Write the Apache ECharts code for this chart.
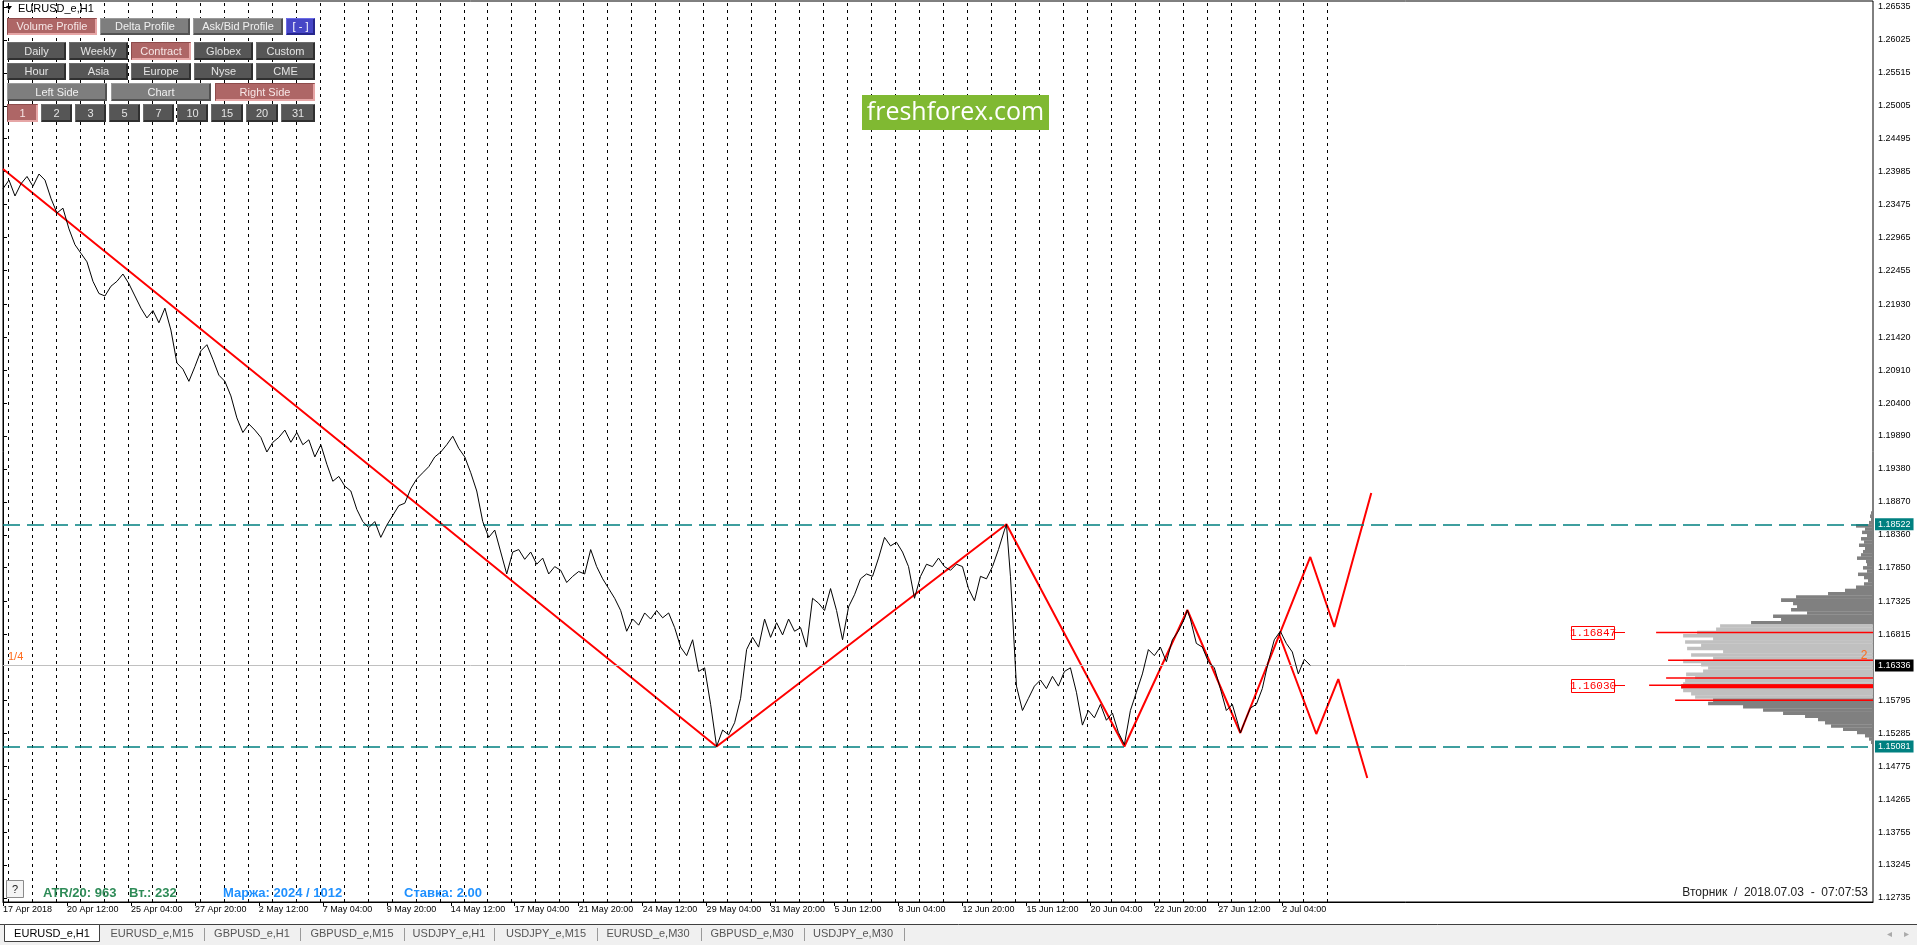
<!DOCTYPE html>
<html><head><meta charset="utf-8">
<script src="https://cdn.jsdelivr.net/npm/echarts@6/dist/echarts.min.js"></script>
<style>html,body{margin:0;padding:0;background:#fff;overflow:hidden}#c{width:1917px;height:945px}</style>
</head><body><div id="c"></div>
<script>
// ---------- DATA ----------
const priceBars = [0,6,12,18,24,30,36,42,48,54,60,66,72,78,84,90,96,102,108,114,120,126,132,138,144,150,156,162,168,174,180,186,192,198,204,210,216,222,228,234,240,246,252,258,264,270,276,282,288,294,300,306,312,318,324,330,336,342,348,354,360,366,372,378,384,390,396,402,408,414,420,426,432,438,444,450,456,462,468,474,480,486,492,498,504,510,516,522,528,534,540,546,552,558,564,570,576,582,588,594,600,606,612,618,624,630,636,642,648,654,660,666,672,678,684,690,696,702,708,714,720,726,732,738,744,750,756,762,768,774,780,786,792,798,804,810,816,822,828,834,840,846,852,858,864,870,876,882,888,894,900,906,912,918,924,930,936,942,948,954,960,966,972,978,984,990,996,1002,1004,1008,1014,1020,1026,1032,1038,1044,1050,1056,1062,1068,1074,1080,1086,1092,1098,1104,1110,1116,1122,1128,1134,1140,1146,1152,1158,1164,1170,1176,1182,1185,1188,1194,1200,1206,1212,1218,1224,1230,1236,1238,1242,1248,1254,1260,1266,1272,1278,1284,1290,1296,1302,1308];
const prices = [1.23721,1.23854,1.23608,1.23797,1.23910,1.23759,1.23948,1.23854,1.23570,1.23344,1.23419,1.23098,1.22853,1.22720,1.22588,1.22286,1.22097,1.22059,1.22210,1.22286,1.22399,1.22248,1.22059,1.21871,1.21719,1.21833,1.21644,1.21871,1.21531,1.21021,1.20926,1.20737,1.20964,1.21209,1.21304,1.21077,1.20832,1.20737,1.20511,1.20171,1.19944,1.20076,1.19982,1.19869,1.19642,1.19793,1.19869,1.19982,1.19793,1.19944,1.19755,1.19831,1.19566,1.19755,1.19453,1.19189,1.19264,1.19113,1.19038,1.18754,1.18565,1.18471,1.18565,1.18320,1.18509,1.18660,1.18811,1.18849,1.19075,1.19226,1.19321,1.19415,1.19566,1.19642,1.19755,1.19887,1.19699,1.19566,1.19321,1.19038,1.18565,1.18320,1.18433,1.18093,1.17753,1.18093,1.18131,1.17980,1.18093,1.17904,1.17999,1.17753,1.17867,1.17810,1.17621,1.17716,1.17791,1.17753,1.18131,1.17867,1.17678,1.17527,1.17376,1.17187,1.16866,1.17055,1.16960,1.17149,1.17055,1.17187,1.17074,1.17149,1.16922,1.16620,1.16488,1.16734,1.16243,1.16299,1.15733,1.15081,1.15336,1.15260,1.15449,1.15827,1.16582,1.16771,1.16620,1.17055,1.16771,1.16998,1.16809,1.17055,1.16866,1.16922,1.16620,1.17376,1.17300,1.17187,1.17527,1.17187,1.16734,1.17243,1.17432,1.17678,1.17753,1.17716,1.17999,1.18320,1.18188,1.18244,1.18093,1.17867,1.17376,1.17716,1.17904,1.17867,1.17999,1.17867,1.17810,1.17904,1.17867,1.17527,1.17338,1.17716,1.17678,1.17867,1.18131,1.18433,1.18522,1.17716,1.16016,1.15638,1.15827,1.16016,1.16110,1.15978,1.16167,1.16016,1.16243,1.16299,1.15921,1.15412,1.15638,1.15525,1.15733,1.15487,1.15600,1.15298,1.15110,1.15638,1.15921,1.16205,1.16582,1.16488,1.16620,1.16394,1.16734,1.16866,1.17055,1.17195,1.17055,1.16677,1.16620,1.16394,1.16299,1.15978,1.15638,1.15733,1.15412,1.15290,1.15449,1.15676,1.15733,1.15978,1.16394,1.16734,1.16866,1.16677,1.16545,1.16205,1.16431,1.16336];

const zigzagBars = [0,714,1004,1122,1185,1238,1308,1332,1369];
const zigzagPrices = [1.24026,1.15081,1.18522,1.15081,1.17195,1.15290,1.18016,1.16932,1.19007];
const branchBars = [1277,1314,1336,1365];
const branchPrices = [1.16808,1.15274,1.16126,1.14593];

const levelPrices = [1.18522,1.15081];
const currentPrice = 1.16336;

const xTickBars = [0,64,128,192,256,320,384,448,512,576,640,704,768,832,896,960,1024,1088,1152,1216,1280];
const xTickLabels = ["17 Apr 2018","20 Apr 12:00","25 Apr 04:00","27 Apr 20:00","2 May 12:00","7 May 04:00","9 May 20:00","14 May 12:00","17 May 04:00","21 May 20:00","24 May 12:00","29 May 04:00","31 May 20:00","5 Jun 12:00","8 Jun 04:00","12 Jun 20:00","15 Jun 12:00","20 Jun 04:00","22 Jun 20:00","27 Jun 12:00","2 Jul 04:00"];
const yTicks = [1.26535,1.26025,1.25515,1.25005,1.24495,1.23985,1.23475,1.22965,1.22455,1.21930,1.21420,1.20910,1.20400,1.19890,1.19380,1.18870,1.18360,1.17850,1.17325,1.16815,1.15795,1.15285,1.14775,1.14265,1.13755,1.13245,1.12735];

const firstSeparatorBar = 5, barsPerDay = 24, separatorCount = 56;

const profilePrices = [1.1870,1.1865,1.1860,1.1855,1.1850,1.1845,1.1840,1.1835,1.1830,1.1825,1.1820,1.1815,1.1810,1.1805,1.1800,1.1795,1.1790,1.1785,1.1780,1.1775,1.1770,1.1765,1.1760,1.1755,1.1750,1.1745,1.1740,1.1735,1.1730,1.1725,1.1720,1.1715,1.1710,1.1705,1.1700,1.1695,1.1690,1.1685,1.1680,1.1675,1.1670,1.1665,1.1660,1.1655,1.1650,1.1645,1.1640,1.1635,1.1630,1.1625,1.1620,1.1615,1.1610,1.1605,1.1600,1.1595,1.1590,1.1585,1.1580,1.1575,1.1570,1.1565,1.1560,1.1555,1.1550,1.1545,1.1540,1.1535,1.1530,1.1525,1.1520,1.1515];
const profileVolumes = [2,3,2,4,17,8,11,6,12,9,14,8,10,12,16,7,6,10,6,15,9,5,9,17,28,45,77,92,80,76,82,66,100,92,122,153,157,176,190,160,188,172,186,150,182,160,190,172,165,170,187,178,188,190,192,190,182,178,160,165,130,110,90,68,55,48,42,30,16,8,4,2];
const valueAreaHigh = 1.16973, valueAreaLow = 1.15827;
const redLevelPrices = [1.16847,1.16416,1.16142,1.16030,1.15796];
const redLevelVolumes = [217,205,207,224,198];
const pocPrice = 1.16030, pocVolume = 192;
const shortLevel = {price:1.16540, from:147, to:182};
const profileLabelPrices = [1.16847,1.16030];

// ---------- CHART ----------
const chart = echarts.init(document.getElementById('c'));
const FONT = '"Liberation Sans", Arial, sans-serif';
const step = profilePrices[0] - profilePrices[1];
const sepData = [];
for (let k = 0; k < separatorCount; k++) sepData.push({xAxis: firstSeparatorBar + k * barsPerDay});

function button(x1,y1,x2,y2,label,kind){
  const pal = {
    rose:{fill:'#AE6666', hi:'#8E4C4C', lo:'#E6A6A6', text:'#F6E6E6'},
    mid:{fill:'#7E7E7E', hi:'#9A9A9A', lo:'#525252', text:'#F0F0F0'},
    dark:{fill:'#565656', hi:'#6C6C6C', lo:'#303030', text:'#E4E4E4'},
    blue:{fill:'#4646C6', hi:'#6C6CE6', lo:'#26268C', text:'#FFFFFF'}}[kind];
  return [
    {type:'rect', z:100, shape:{x:x1,y:y1,width:x2-x1,height:y2-y1}, style:{fill:pal.fill}},
    {type:'polyline', z:101, shape:{points:[[x1+0.5,y2-1],[x1+0.5,y1+0.5],[x2-1,y1+0.5]]}, style:{stroke:pal.hi, lineWidth:1, fill:null}},
    {type:'polyline', z:101, shape:{points:[[x1+1,y2-1],[x2-1,y2-1],[x2-1,y1+1]]}, style:{stroke:pal.lo, lineWidth:2, fill:null}},
    {type:'text', z:102, style:{x:(x1+x2)/2, y:(y1+y2)/2+0.5, text:label, fill:pal.text, font:'11px '+FONT, textAlign:'center', textVerticalAlign:'middle'}}
  ];
}
const g = [];
[[7,18,97,35,'Volume Profile','rose'],[100,18,190,35,'Delta Profile','mid'],[193,18,283,35,'Ask/Bid Profile','mid'],[286,18,315,35,'[ - ]','blue'],
 [7,42,66,60,'Daily','dark'],[69,42,128,60,'Weekly','dark'],[131,42,191,60,'Contract','rose'],[194,42,253,60,'Globex','dark'],[256,42,315,60,'Custom','dark'],
 [7,63,66,80,'Hour','dark'],[69,63,128,80,'Asia','dark'],[131,63,191,80,'Europe','dark'],[194,63,253,80,'Nyse','dark'],[256,63,315,80,'CME','dark'],
 [7,83,107,101,'Left Side','mid'],[111,83,211,101,'Chart','mid'],[215,83,315,101,'Right Side','rose'],
 [7,104,38,122,'1','rose'],[41,104,72,122,'2','dark'],[75,104,106,122,'3','dark'],[109,104,140,122,'5','dark'],[143,104,174,122,'7','dark'],[177,104,208,122,'10','dark'],[211,104,243,122,'15','dark'],[246,104,278,122,'20','dark'],[281,104,315,122,'31','dark']
].forEach(b => g.push(...button(...b)));
g.push({type:'polygon', z:102, shape:{points:[[6,6],[12,6],[9,10]]}, style:{fill:'#000'}});
g.push({type:'text', z:102, style:{x:18, y:9, text:'EURUSD_e,H1', fill:'#000', font:'11px '+FONT, textVerticalAlign:'middle'}});
// logo
g.push({type:'rect', z:100, shape:{x:862,y:95,width:187,height:35}, style:{fill:'#80B932'}});
g.push({type:'text', z:101, style:{x:955.5, y:113, text:'freshforex.com', fill:'#fff', font:'25px "Open Sans", sans-serif', textAlign:'center', textVerticalAlign:'middle'}});
// status line
g.push({type:'rect', z:100, shape:{x:6.5,y:880.5,width:17,height:17}, style:{fill:'#F4F4F4', stroke:'#8A8A8A', lineWidth:1}});
g.push({type:'text', z:101, style:{x:15, y:889.5, text:'?', fill:'#222', font:'11px '+FONT, textAlign:'center', textVerticalAlign:'middle'}});
g.push({type:'text', z:101, style:{x:43, y:893, text:'ATR/20: 963', fill:'#2E8B57', font:'bold 13px '+FONT, textVerticalAlign:'middle'}});
g.push({type:'text', z:101, style:{x:129, y:893, text:'Вт.: 232', fill:'#2E8B57', font:'bold 13px '+FONT, textVerticalAlign:'middle'}});
g.push({type:'text', z:101, style:{x:223, y:893, text:'Маржа: 2024 / 1012', fill:'#1E90FF', font:'bold 13px '+FONT, textVerticalAlign:'middle'}});
g.push({type:'text', z:101, style:{x:404, y:893, text:'Ставка: 2.00', fill:'#1E90FF', font:'bold 13px '+FONT, textVerticalAlign:'middle'}});
g.push({type:'text', z:101, style:{x:1868, y:893, text:'Вторник  /  2018.07.03  -  07:07:53', fill:'#222', font:'12px '+FONT, textAlign:'right', textVerticalAlign:'middle'}});
g.push({type:'text', z:101, style:{x:8, y:657, text:'1/4', fill:'#FF6A1A', font:'11px '+FONT, textVerticalAlign:'middle'}});
g.push({type:'text', z:101, style:{x:1864, y:656, text:'2', fill:'#FF6A1A', font:'12px '+FONT, textAlign:'center', textVerticalAlign:'middle'}});
// tabs
g.push({type:'rect', z:100, shape:{x:0,y:924,width:1917,height:21}, style:{fill:'#F0F0F0'}});
g.push({type:'line', z:101, shape:{x1:0,y1:924.5,x2:1917,y2:924.5}, style:{stroke:'#404040', lineWidth:1}});
g.push({type:'rect', z:101, shape:{x:4.5,y:924.5,width:95,height:17}, style:{fill:'#fff', stroke:'#404040', lineWidth:1}});
g.push({type:'text', z:102, style:{x:52, y:934, text:'EURUSD_e,H1', fill:'#000', font:'11px '+FONT, textAlign:'center', textVerticalAlign:'middle'}});
[[152,'EURUSD_e,M15'],[252,'GBPUSD_e,H1'],[352,'GBPUSD_e,M15'],[449,'USDJPY_e,H1'],[546,'USDJPY_e,M15'],[648,'EURUSD_e,M30'],[752,'GBPUSD_e,M30'],[853,'USDJPY_e,M30']]
 .forEach(t => g.push({type:'text', z:102, style:{x:t[0], y:934, text:t[1], fill:'#555', font:'11px '+FONT, textAlign:'center', textVerticalAlign:'middle'}}));
[204,300,404,494,597,701,804,904].forEach(x => g.push({type:'line', z:102, shape:{x1:x+0.5,y1:928,x2:x+0.5,y2:941}, style:{stroke:'#999', lineWidth:1}}));
g.push({type:'text', z:102, style:{x:1889, y:934, text:'◂', fill:'#AAA', font:'10px '+FONT, textAlign:'center', textVerticalAlign:'middle'}});
g.push({type:'text', z:102, style:{x:1906, y:934, text:'▸', fill:'#AAA', font:'10px '+FONT, textAlign:'center', textVerticalAlign:'middle'}});

const axisLabelStyle = {fontSize:9, fontFamily:FONT, color:'#000'};
const priceLabel = (bg) => ({show:true, position:'end', distance:2, formatter: p => Number(p.value).toFixed(5), backgroundColor:bg, color:'#fff', padding:[2,3,1,3], fontSize:9, fontFamily:FONT});

const option = {
  animation:false,
  backgroundColor:'#fff',
  grid:{left:2, top:1, width:1871, height:901, show:true, borderColor:'#000', borderWidth:1},
  xAxis:[
    {type:'value', min:0, max:1871, position:'bottom',
     axisLine:{show:true, lineStyle:{color:'#000', width:1}},
     axisTick:{show:true, customValues:xTickBars, length:4, lineStyle:{color:'#000'}},
     axisLabel:{show:true, customValues:xTickBars, align:'left', margin:3, ...axisLabelStyle,
       formatter: v => { const i = xTickBars.indexOf(v); return i >= 0 ? xTickLabels[i] : ''; }},
     splitLine:{show:false}},
    {type:'value', min:0, max:1871, inverse:true, show:false}
  ],
  yAxis:[{type:'value', min:1.12672, max:1.26628, position:'right',
     axisLine:{show:true, lineStyle:{color:'#000', width:1}},
     axisTick:{show:true, customValues:yTicks, length:4, lineStyle:{color:'#000'}},
     axisLabel:{show:true, customValues:yTicks, margin:5, ...axisLabelStyle, formatter: v => Number(v).toFixed(5)},
     splitLine:{show:false}}],
  graphic: g,
  series:[
    {type:'custom', name:'profile', xAxisIndex:1, yAxisIndex:0, z:1, silent:true,
     data: profileVolumes.map((v,i) => [v, profilePrices[i]]),
     renderItem:(params, api) => {
       const vol = api.value(0), pr = api.value(1);
       const a = api.coord([0, pr + step/2]), b = api.coord([vol, pr - step/2]);
       const inVA = pr <= valueAreaHigh && pr >= valueAreaLow;
       return {type:'rect', shape:{x:b[0], y:a[1], width:a[0]-b[0], height:b[1]-a[1]+0.3}, style:{fill: inVA ? '#C0C0C0' : '#808080'}};
     }},
    {type:'custom', name:'redLevels', xAxisIndex:1, yAxisIndex:0, z:3, silent:true,
     data: redLevelVolumes.map((v,i) => [v, redLevelPrices[i]]),
     renderItem:(params, api) => {
       const a = api.coord([0, api.value(1)]), b = api.coord([api.value(0), api.value(1)]);
       return {type:'line', shape:{x1:b[0], y1:a[1], x2:a[0], y2:a[1]}, style:{stroke:'#FF0000', lineWidth:1.5}};
     }},
    {type:'custom', name:'poc', xAxisIndex:1, yAxisIndex:0, z:3, silent:true,
     data: [[pocVolume, pocPrice], [shortLevel.to, shortLevel.price, shortLevel.from]],
     renderItem:(params, api) => {
       if (params.dataIndex === 0) {
         const a = api.coord([0, api.value(1)]), b = api.coord([api.value(0), api.value(1)]);
         return {type:'rect', shape:{x:b[0], y:a[1]-1, width:a[0]-b[0], height:4}, style:{fill:'#FF0000'}};
       }
       const a = api.coord([api.value(2), api.value(1)]), b = api.coord([api.value(0), api.value(1)]);
       return {type:'line', shape:{x1:b[0], y1:a[1], x2:a[0], y2:a[1]}, style:{stroke:'#FF0000', lineWidth:1.5}};
     }},
    {type:'custom', name:'profileLabels', xAxisIndex:1, yAxisIndex:0, z:4, silent:true,
     data: profileLabelPrices.map(p => [0, p]),
     renderItem:(params, api) => {
       const pr = api.value(1); const p = api.coord([0, pr]);
       const right = p[0] - 259, w = 43, h = 13;
       return {type:'group', children:[
         {type:'rect', shape:{x:right-w+0.5, y:Math.round(p[1]-h/2)+0.5, width:w, height:h}, style:{fill:'#fff', stroke:'#FF0000', lineWidth:1}},
         {type:'text', style:{x:right-w/2+0.5, y:Math.round(p[1])+1, text:pr.toFixed(5), fill:'#FF0000', font:'11px "Liberation Mono", monospace', textAlign:'center', textVerticalAlign:'middle'}},
         {type:'line', shape:{x1:right, y1:Math.round(p[1])+0.5, x2:right+11, y2:Math.round(p[1])+0.5}, style:{stroke:'#FF0000', lineWidth:1}}
       ]};
     }},
    {type:'line', name:'separators', data:[], z:2, silent:true,
     markLine:{silent:true, symbol:['none','none'], animation:false, precision:5, label:{show:false},
       lineStyle:{color:'#000', type:[3,4], width:1}, data: sepData}},
    {type:'line', name:'levels', data:[], z:6, silent:true,
     markLine:{silent:true, symbol:['none','none'], animation:false, precision:5,
       data:[
         {yAxis:levelPrices[0], lineStyle:{color:'#008080', type:[17,7], width:1.5}, label:priceLabel('#008080')},
         {yAxis:levelPrices[1], lineStyle:{color:'#008080', type:[17,7], width:1.5}, label:priceLabel('#008080')},
         {yAxis:currentPrice, lineStyle:{color:'#C0C0C0', type:'solid', width:1}, label:priceLabel('#000')}
       ]}},
    {type:'line', name:'zigzag', z:4, silent:true, showSymbol:false, symbol:'none',
     data: zigzagBars.map((b,i) => [b, zigzagPrices[i]]), lineStyle:{color:'#FF0000', width:2}},
    {type:'line', name:'branch', z:4, silent:true, showSymbol:false, symbol:'none',
     data: branchBars.map((b,i) => [b, branchPrices[i]]), lineStyle:{color:'#FF0000', width:2}},
    {type:'line', name:'EURUSD', z:5, silent:true, showSymbol:false, symbol:'none',
     data: priceBars.map((b,i) => [b, prices[i]]), lineStyle:{color:'#000', width:1}}
  ]
};
chart.setOption(option);
</script></body></html>
